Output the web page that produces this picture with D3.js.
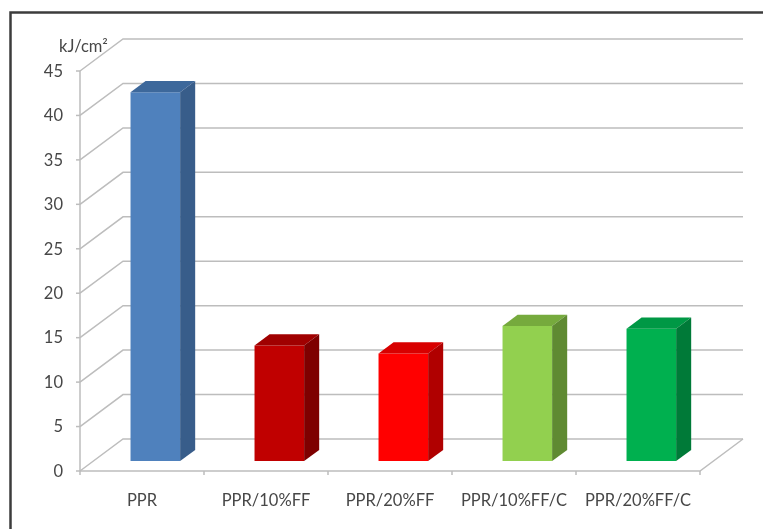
<!DOCTYPE html>
<html>
<head>
<meta charset="utf-8">
<script src="https://cdnjs.cloudflare.com/ajax/libs/d3/7.8.5/d3.min.js"></script>
<style>
  html, body { margin: 0; padding: 0; background: #ffffff; }
  svg { display: block; }
  text { font-family: Lato, "Open Sans", "Liberation Sans", sans-serif; fill: #474747; }
</style>
</head>
<body>
<svg id="chart" width="763" height="529"></svg>
<script>
// Peak heat release rate per formulation
const categories = ["PPR", "PPR/10%FF", "PPR/20%FF", "PPR/10%FF/C", "PPR/20%FF/C"];
const values = [41.5, 13.0, 12.1, 15.2, 14.9];
const frontColors = ["#4F81BD", "#C00000", "#FF0000", "#92D050", "#00B050"];
const topColors = ["#3D679B", "#A00000", "#D80000", "#76AA3E", "#009844"];
const sideColors = ["#385D8A", "#7E0000", "#B00000", "#5E8A30", "#007A38"];
const yTicks = [0, 5, 10, 15, 20, 25, 30, 35, 40, 45];
const unitLabel = "kJ/cm²";

const svg = d3.select("#chart");
const fontSize = 16.5;

// outer frame (cut off at right and bottom)
svg.append("rect")
  .attr("x", 10.5).attr("y", 12.5)
  .attr("width", 800).attr("height", 560)
  .attr("fill", "none").attr("stroke", "#3c3c3c").attr("stroke-width", 2.5);

svg.append("defs").append("filter").attr("id", "soft")
  .append("feGaussianBlur").attr("stdDeviation", 0.55);
const g = svg.append("g").attr("filter", "url(#soft)");

// oblique depth vector of the plot box
const DX = 43, DY = -32;
const proj = (x, y, d) => [x + d * DX, y + d * DY];

const x = d3.scaleBand().domain(categories).range([80, 700])
  .paddingInner(0.6).paddingOuter(0.3);
const y = d3.scaleLinear().domain([0, 45]).range([471, 71]);

const gridColor = "#BDBDBD";

// back wall gridlines + side wall diagonals
yTicks.forEach(t => {
  const f = [80, y(t)];
  const b = proj(80, y(t), 1);
  g.append("path")
    .attr("d", `M${f[0]},${f[1]}L${b[0]},${b[1]}L${700 + DX},${b[1]}`)
    .attr("fill", "none").attr("stroke", gridColor).attr("stroke-width", 1.5);
});

// floor: front edge and right edge
g.append("path")
  .attr("d", `M80,${y(0)}L700,${y(0)}L${700 + DX},${y(0) + DY}`)
  .attr("fill", "none").attr("stroke", gridColor).attr("stroke-width", 1.5);

// front value axis
g.append("line")
  .attr("x1", 80).attr("x2", 80).attr("y1", y(45)).attr("y2", y(0))
  .attr("stroke", gridColor).attr("stroke-width", 1.5);

// value ticks and labels
yTicks.forEach(t => {
  g.append("line").attr("x1", 76).attr("x2", 80).attr("y1", y(t)).attr("y2", y(t))
    .attr("stroke", gridColor).attr("stroke-width", 1.5);
  g.append("text").attr("x", 63).attr("y", y(t)).attr("dy", "0.35em")
    .attr("text-anchor", "end").attr("font-size", fontSize).text(t);
});

g.append("text").attr("x", 59).attr("y", 52).attr("font-size", fontSize).text(unitLabel);

// category ticks on the floor front edge
const step = x.step();
d3.range(categories.length + 1).forEach(i => {
  const xx = 80 + i * step;
  g.append("line").attr("x1", xx).attr("x2", xx).attr("y1", y(0)).attr("y2", y(0) + 4)
    .attr("stroke", gridColor).attr("stroke-width", 1.5);
});

// category labels
categories.forEach(c => {
  g.append("text").attr("x", x(c) + x.bandwidth() / 2).attr("y", 506)
    .attr("text-anchor", "middle").attr("font-size", fontSize).text(c);
});

// 3D columns placed in the middle of the depth
const d0 = 0.31, d1 = 0.66;
const pt = p => p.join(",");
categories.forEach((c, i) => {
  const xl = x(c), xr = x(c) + x.bandwidth();
  const fBL = proj(xl, y(0), d0), fBR = proj(xr, y(0), d0);
  const fTL = proj(xl, y(values[i]), d0), fTR = proj(xr, y(values[i]), d0);
  const bTL = proj(xl, y(values[i]), d1), bTR = proj(xr, y(values[i]), d1);
  const bBR = proj(xr, y(0), d1);
  const bar = g.append("g");
  bar.append("polygon").attr("points", [fBL, fBR, fTR, fTL].map(pt).join(" "))
    .attr("fill", frontColors[i]);
  bar.append("polygon").attr("points", [fTL, fTR, bTR, bTL].map(pt).join(" "))
    .attr("fill", topColors[i]);
  bar.append("polygon").attr("points", [fBR, bBR, bTR, fTR].map(pt).join(" "))
    .attr("fill", sideColors[i]);
});
</script>
</body>
</html>
